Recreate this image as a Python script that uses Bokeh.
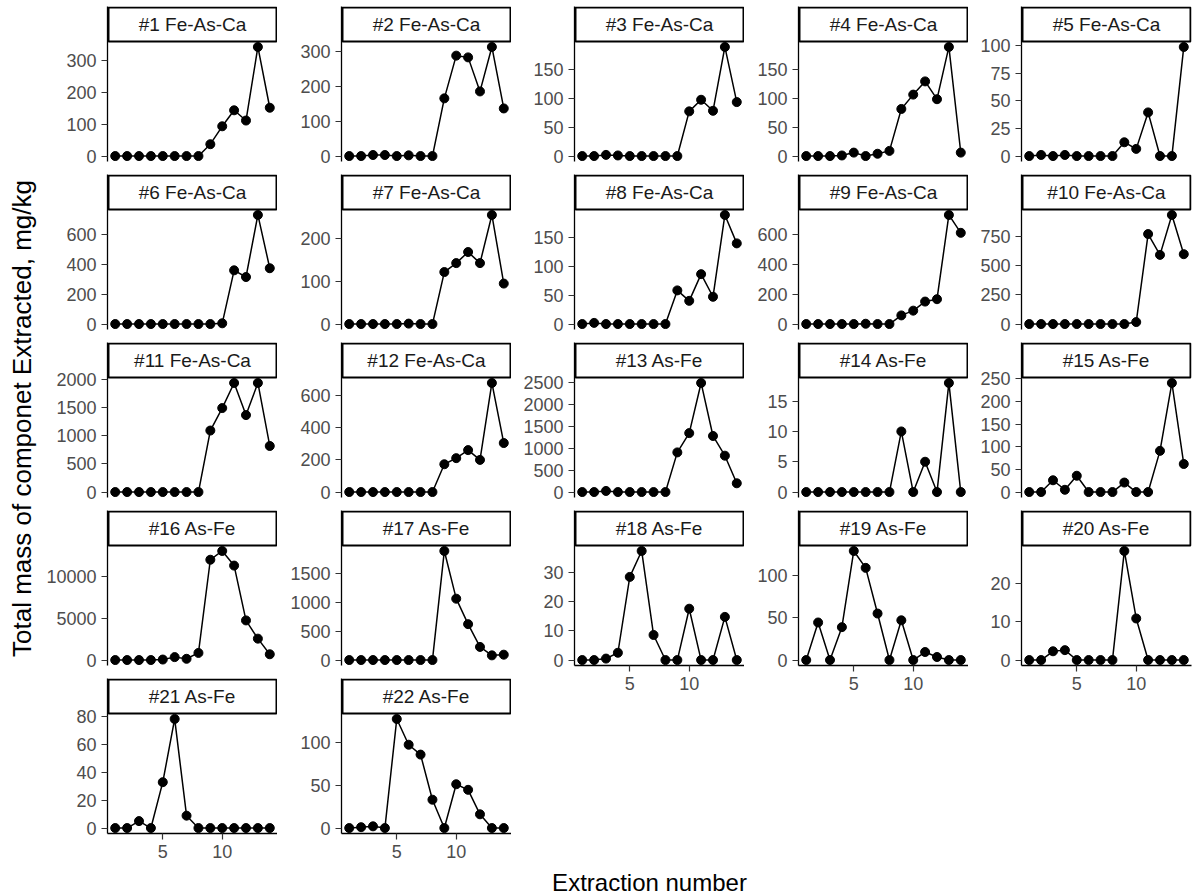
import math
from bokeh.plotting import figure
from bokeh.layouts import row, column
from bokeh.models import Range1d, FixedTicker, Label
from bokeh.core.properties import value
from bokeh.embed import file_html
from bokeh.resources import INLINE

# ---------------- data ----------------
extraction = [1, 2, 3, 4, 5, 6, 7, 8, 9, 10, 11, 12, 13, 14]

titles = ["#1 Fe-As-Ca", "#2 Fe-As-Ca", "#3 Fe-As-Ca", "#4 Fe-As-Ca", "#5 Fe-As-Ca",
          "#6 Fe-As-Ca", "#7 Fe-As-Ca", "#8 Fe-As-Ca", "#9 Fe-As-Ca", "#10 Fe-As-Ca",
          "#11 Fe-As-Ca", "#12 Fe-As-Ca", "#13 As-Fe", "#14 As-Fe", "#15 As-Fe",
          "#16 As-Fe", "#17 As-Fe", "#18 As-Fe", "#19 As-Fe", "#20 As-Fe",
          "#21 As-Fe", "#22 As-Fe"]

s1 = [0, 0, 0, 0, 0, 0, 0, 0, 37, 93, 143, 111, 341, 151]
s2 = [0, 0, 3, 3, 0, 2, 0, 0, 166, 289, 284, 186, 314, 137]
s3 = [0, 0, 2, 1, 0, 0, 0, 0, 0, 77, 97, 78, 188, 93]
s4 = [0, 0, 0, 1, 6, 0, 4, 9, 82, 107, 130, 99, 190, 6]
s5 = [0, 1, 0, 1, 0, 0, 0, 0, 12.5, 6.5, 39.6, 0, 0, 99]
s6 = [0, 0, 0, 0, 0, 0, 0, 0, 0, 5, 361, 316, 733, 375]
s7 = [0, 0, 0, 0, 0, 1, 0, 0, 122, 143, 169, 143, 256, 95]
s8 = [0, 2, 0, 0, 0, 0, 0, 0, 58, 40, 86, 47, 188, 139]
s9 = [0, 0, 0, 0, 0, 2, 0, 0, 58, 90, 151, 167, 733, 613]
s10 = [0, 0, 0, 0, 0, 0, 0, 0, 0, 17, 773, 594, 937, 600]
s11 = [0, 0, 0, 0, 0, 0, 0, 0, 1095, 1495, 1942, 1370, 1942, 820]
s12 = [0, 0, 0, 0, 0, 0, 0, 0, 173, 211, 261, 200, 679, 305]
s13 = [0, 0, 25, 0, 0, 0, 0, 0, 905, 1345, 2490, 1280, 830, 200]
s14 = [0, 0, 0, 0, 0, 0, 0, 0, 10, 0, 5, 0, 18, 0]
s15 = [0, 0, 26, 5, 36, 0, 0, 0, 21, 0, 0, 91, 241, 62]
s16 = [0, 0, 0, 0, 60, 350, 150, 850, 12000, 13050, 11300, 4740, 2560, 690]
s17 = [0, 0, 0, 0, 0, 0, 0, 0, 1890, 1063, 622, 227, 81, 93]
s18 = [0, 0, 0.5, 2.5, 28.5, 37.4, 8.6, 0, 0, 17.6, 0, 0, 14.8, 0]
s19 = [0, 44.4, 0, 38.9, 129, 109, 55, 0, 47, 0, 9.5, 3.6, 0, 0]
s20 = [0, 0, 2.3, 2.6, 0, 0, 0, 0, 28.6, 10.9, 0, 0, 0, 0]
s21 = [0, 0, 5, 0, 33, 78.5, 8.9, 0, 0, 0, 0, 0, 0, 0]
s22 = [0, 1, 2, 0, 127, 97, 85.5, 33, 0, 51, 44.5, 16, 0, 0]

series = [s1, s2, s3, s4, s5, s6, s7, s8, s9, s10, s11,
          s12, s13, s14, s15, s16, s17, s18, s19, s20, s21, s22]

yticks = [[0, 100, 200, 300], [0, 100, 200, 300], [0, 50, 100, 150], [0, 50, 100, 150],
          [0, 25, 50, 75, 100], [0, 200, 400, 600], [0, 100, 200], [0, 50, 100, 150],
          [0, 200, 400, 600], [0, 250, 500, 750], [0, 500, 1000, 1500, 2000],
          [0, 200, 400, 600], [0, 500, 1000, 1500, 2000, 2500], [0, 5, 10, 15],
          [0, 50, 100, 150, 200, 250], [0, 5000, 10000], [0, 500, 1000, 1500],
          [0, 10, 20, 30], [0, 50, 100], [0, 10, 20], [0, 20, 40, 60, 80], [0, 50, 100]]
xticks = [5, 10]

x_title = "Extraction number"
y_title = "Total mass of componet Extracted, mg/kg"

# ---------------- layout constants ----------------
NCOL = 5
FONT = "Liberation Sans"
FW, FH = 170, 120          # panel (data) area size
SH = 35                    # strip height (part of the frame, above the data area)
TOPGAP = 6
LEFT = [67, 64, 63, 54, 53]
RIGHT = [0, 0, 0, 0, 6]
BOTTOM_AXIS = 32
GAP = 7
STRIP_LW = 2.0

n = len(series)


def panel_fig(i, c, bottom):
    ys = series[i]
    lo, hi = min(ys), max(ys)
    pad = 0.05 * (hi - lo)
    y0, y1 = lo - pad, hi + pad
    upp = (y1 - y0) / FH                 # data units per pixel (y)
    ytop = y1 + SH * upp
    x0, x1 = extraction[0] - 0.65, extraction[-1] + 0.65
    xpp = (x1 - x0) / FW                 # data units per pixel (x)

    f = figure(frame_width=FW, frame_height=FH + SH,
               x_range=Range1d(x0, x1), y_range=Range1d(y0, ytop),
               output_backend="svg", toolbar_location=None,
               min_border_left=LEFT[c], min_border_right=RIGHT[c],
               min_border_top=TOPGAP, min_border_bottom=(BOTTOM_AXIS if bottom else GAP),
               x_axis_location=("below" if bottom else None))
    f.grid.visible = False
    f.outline_line_color = None

    # facet strip (upper part of the frame)
    h = STRIP_LW / 2
    f.quad(left=[x0 + h * xpp], right=[x1 - h * xpp], bottom=[y1], top=[ytop - h * upp],
           fill_color="white", line_color="black", line_width=STRIP_LW)
    f.text(x=[(x0 + x1) / 2], y=[y1 + SH * upp / 2], text=[titles[i]],
           text_align="center", text_baseline="middle",
           text_font=value(FONT), text_font_size="19px", text_color="#1A1A1A")

    f.line(extraction, ys, line_color="black", line_width=1.5)
    f.scatter(extraction, ys, size=9, fill_color="black", line_color="black")

    axes = [f.yaxis[0]]
    f.yaxis[0].ticker = FixedTicker(ticks=yticks[i])
    if bottom:
        f.xaxis[0].ticker = FixedTicker(ticks=xticks)
        axes.append(f.xaxis[0])
    for ax in axes:
        ax.axis_line_color = "black"
        ax.axis_line_width = 1.3
        ax.major_tick_line_color = "#333333"
        ax.major_tick_line_width = 1.2
        ax.major_tick_out = 6
        ax.major_tick_in = 0
        ax.minor_tick_line_color = None
        ax.major_label_standoff = 5
        ax.major_label_text_font = FONT
        ax.major_label_text_font_size = "18px"
        ax.major_label_text_color = "#4D4D4D"
    return f


cols = []
for c in range(NCOL):
    idx = [r * NCOL + c for r in range(5) if r * NCOL + c < n]
    kids = [panel_fig(i, c, k == len(idx) - 1) for k, i in enumerate(idx)]
    cols.append(column(*kids, spacing=0))

ROWH = 4 * (TOPGAP + SH + FH + GAP) + TOPGAP + SH + FH + BOTTOM_AXIS

ylab = figure(frame_width=40, frame_height=ROWH, x_range=Range1d(0, 40), y_range=Range1d(0, ROWH),
              output_backend="svg", toolbar_location=None, min_border=0,
              x_axis_location=None, y_axis_location=None)
ylab.grid.visible = False
ylab.outline_line_color = None
ylab.add_layout(Label(x=21, y=ROWH - 418, text=y_title, angle=math.pi / 2, text_align="center",
                      text_baseline="middle", text_font=FONT, text_font_size="26px",
                      text_color="black"))

XH = 895 - ROWH
xlab = figure(frame_width=1197, frame_height=XH, x_range=Range1d(0, 1197), y_range=Range1d(0, XH),
              output_backend="svg", toolbar_location=None, min_border=0,
              x_axis_location=None, y_axis_location=None)
xlab.grid.visible = False
xlab.outline_line_color = None
xlab.add_layout(Label(x=649, y=XH - 17, text=x_title, text_align="center", text_baseline="middle",
                      text_font=FONT, text_font_size="24px", text_color="black"))

layout = column(row(ylab, *cols, spacing=0), xlab, spacing=0)

open("out.html", "w").write(file_html(layout, INLINE))
